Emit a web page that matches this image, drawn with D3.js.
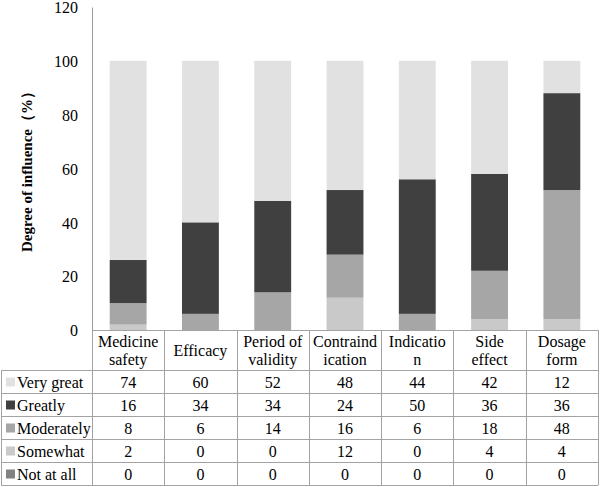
<!DOCTYPE html>
<html><head><meta charset="utf-8">
<script src="https://cdn.jsdelivr.net/npm/d3@7/dist/d3.min.js"></script>
<style>body{margin:0;background:#fff}svg{display:block}</style>
</head><body><svg id="c" width="600" height="487" font-family="Liberation Serif"></svg>
<script>
const categories = [["Medicine","safety"],["Efficacy"],["Period of","validity"],["Contraind","ication"],["Indicatio","n"],["Side","effect"],["Dosage","form"]];
const seriesNames = ["Very great","Greatly","Moderately","Somewhat","Not at all"];
const veryGreat = [74,60,52,48,44,42,12];
const greatly = [16,34,34,24,50,36,36];
const moderately = [8,6,14,16,6,18,48];
const somewhat = [2,0,0,12,0,4,4];
const notAtAll = [0,0,0,0,0,0,0];
const yTicks = [0,20,40,60,80,100,120];
const colors = ["#e1e1e1","#404040","#a6a6a6","#c9c9c9","#828282"];
const values = [veryGreat,greatly,moderately,somewhat,notAtAll];

(function(){
const svg = d3.select("#c");
const fs = 16, ff = "Liberation Serif";
const pL = 92, pR = 598, pT = 7, pB = 330;
const x = d3.scaleBand().domain(d3.range(categories.length)).range([pL,pR]).paddingInner(0).paddingOuter(0);
const y = d3.scaleLinear().domain([0,120]).range([pB,pT]);
const bw = x.bandwidth()*0.51;

const rows = categories.map((c,i)=>{const o={i}; seriesNames.forEach((s,k)=>o[s]=values[k][i]); return o;});
const stack = d3.stack().keys(seriesNames.slice().reverse())(rows);
stack.forEach(layer=>{
  const k = seriesNames.indexOf(layer.key);
  svg.append("g").selectAll("rect").data(layer).join("rect")
    .attr("x",d=>x(d.data.i)+(x.bandwidth()-bw)/2)
    .attr("width",bw)
    .attr("y",d=>y(d[1]))
    .attr("height",d=>y(d[0])-y(d[1]))
    .attr("fill",colors[k]);
});

const ya = svg.append("g").attr("transform",`translate(${pL},0)`).call(d3.axisLeft(y).tickValues(yTicks).tickSize(0).tickPadding(14));
ya.attr("font-family",ff);
ya.select(".domain").attr("stroke","#9a9a9a").attr("stroke-width",1);
ya.selectAll("text").attr("font-family",ff).attr("font-size",fs).attr("fill","#000").attr("dy","0.36em");

svg.append("text").attr("transform","translate(32,168) rotate(-90)").attr("text-anchor","middle")
  .attr("font-family",ff).attr("font-size",15).attr("font-weight","bold").text("Degree of influence（%）");

const tableTop = pB, headerH = 40, rowH = 23, tLeft = 1;
const lineC = "#a3a3a3";
const g = svg.append("g").attr("font-family",ff);
g.append("line").attr("x1",pL).attr("x2",pR).attr("y1",tableTop+0.5).attr("y2",tableTop+0.5).attr("stroke",lineC);
const yRowsTop = tableTop+headerH;
const tBottom = yRowsTop + rowH*seriesNames.length;
for(let r=0;r<=seriesNames.length;r++){
  const yy = yRowsTop + r*rowH + 0.5;
  g.append("line").attr("x1",tLeft).attr("x2",pR).attr("y1",yy).attr("y2",yy).attr("stroke",lineC);
}
g.append("line").attr("x1",tLeft+0.5).attr("x2",tLeft+0.5).attr("y1",yRowsTop).attr("y2",tBottom).attr("stroke",lineC);
for(let i=0;i<=categories.length;i++){
  const xx = Math.round(pL + i*x.bandwidth())+0.5;
  g.append("line").attr("x1",xx).attr("x2",xx).attr("y1",tableTop).attr("y2",tBottom).attr("stroke",lineC);
}
categories.forEach((c,i)=>{
  const cx = x(i)+x.bandwidth()/2;
  const lh = 18;
  const y0 = tableTop + headerH/2 - (c.length-1)*lh/2;
  c.forEach((t,j)=>{
    g.append("text").attr("x",cx).attr("y",y0+j*lh).attr("dy","0.35em").attr("text-anchor","middle")
      .attr("font-family",ff).attr("font-size",fs).text(t);
  });
});
seriesNames.forEach((s,k)=>{
  const cy = yRowsTop + k*rowH + rowH/2 + 0.5;
  g.append("rect").attr("x",6).attr("y",cy-4.5).attr("width",9).attr("height",9).attr("fill",colors[k]);
  g.append("text").attr("x",17).attr("y",cy).attr("dy","0.35em").attr("font-family",ff).attr("font-size",fs).text(s);
  values[k].forEach((v,i)=>{
    g.append("text").attr("x",x(i)+x.bandwidth()/2).attr("y",cy).attr("dy","0.35em").attr("text-anchor","middle")
      .attr("font-family",ff).attr("font-size",fs).text(v);
  });
});
})();
</script></body></html>
